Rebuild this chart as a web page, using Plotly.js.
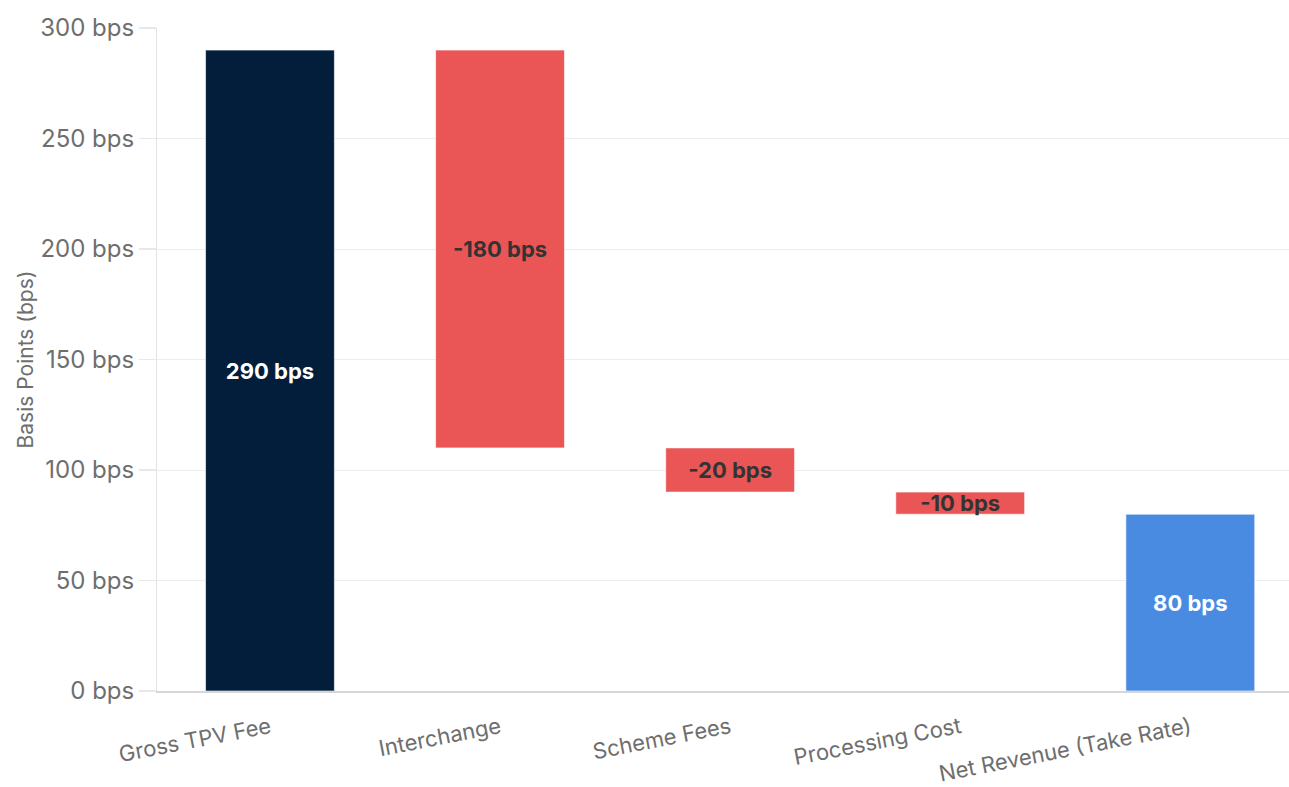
<!DOCTYPE html>
<html><head><meta charset="utf-8">
<script src="https://cdn.plot.ly/plotly-3.0.1.min.js"></script>
<style>html,body{margin:0;padding:0;background:#fff;}#chart{width:1289px;height:787px;}</style>
</head><body><div id="chart"></div>
<script>
const categories = ["Gross TPV Fee", "Interchange", "Scheme Fees", "Processing Cost", "Net Revenue (Take Rate)"];
const values = [290, -180, -20, -10, 80];
const measures = ["absolute", "relative", "relative", "relative", "total"];
const barLabels = ["290 bps", "-180 bps", "-20 bps", "-10 bps", "80 bps"];
const yTickVals = [0, 50, 100, 150, 200, 250, 300];
const yTickText = ["0 bps", "50 bps", "100 bps", "150 bps", "200 bps", "250 bps", "300 bps"];

const colorMap = {absolute: "#021E3B", relative: "#EA5556", total: "#488BE0"};
const textColorMap = {absolute: "#FFFFFF", relative: "#333333", total: "#FFFFFF"};

let running = 0;
const bases = [], heights = [];
values.forEach((v, i) => {
  const m = measures[i];
  if (m === "absolute") { bases.push(0); heights.push(v); running = v; }
  else if (m === "relative") { bases.push(v < 0 ? running + v : running); heights.push(Math.abs(v)); running += v; }
  else { bases.push(0); heights.push(v); }
});

const trace = {
  type: "bar",
  x: categories,
  y: heights,
  base: bases,
  width: 0.56,
  marker: {color: measures.map(m => colorMap[m]), line: {color: "rgba(255,255,255,0.6)", width: 1}},
  text: barLabels,
  textposition: "inside",
  insidetextanchor: "middle",
  constraintext: "none",
  textfont: {family: "Inter, sans-serif", size: 22, weight: 700, color: measures.map(m => textColorMap[m])},
  hoverinfo: "none",
  cliponaxis: false
};

const layout = {
  width: 1289, height: 787,
  margin: {l: 157, r: 0, t: 28, b: 96},
  paper_bgcolor: "#fff", plot_bgcolor: "#fff",
  showlegend: false,
  font: {family: "Inter, sans-serif", color: "#6e6e6e"},
  xaxis: {
    type: "category",
    range: [-0.491, 4.429],
    tickangle: -11,
    tickfont: {size: 22, color: "#6e6e6e"},
    ticklabelstandoff: 14,
    showline: true, linecolor: "#d6d6d6", linewidth: 1.5,
    ticks: "", showgrid: false, zeroline: false, automargin: false
  },
  yaxis: {
    range: [0, 300],
    tickvals: yTickVals, ticktext: yTickText,
    tickfont: {size: 24, color: "#6e6e6e"},
    showgrid: true, gridcolor: "#ececec", gridwidth: 1,
    showline: true, linecolor: "#e3e3e3", linewidth: 1,
    ticks: "outside", ticklen: 17, tickcolor: "#e8e8e8", tickwidth: 1.5,
    zeroline: false, automargin: false,
    title: {text: "Basis Points (bps)", font: {size: 21, color: "#6e6e6e"}, standoff: 0}
  }
};

Plotly.newPlot("chart", [trace], layout, {displayModeBar: false, staticPlot: true});
</script></body></html>
